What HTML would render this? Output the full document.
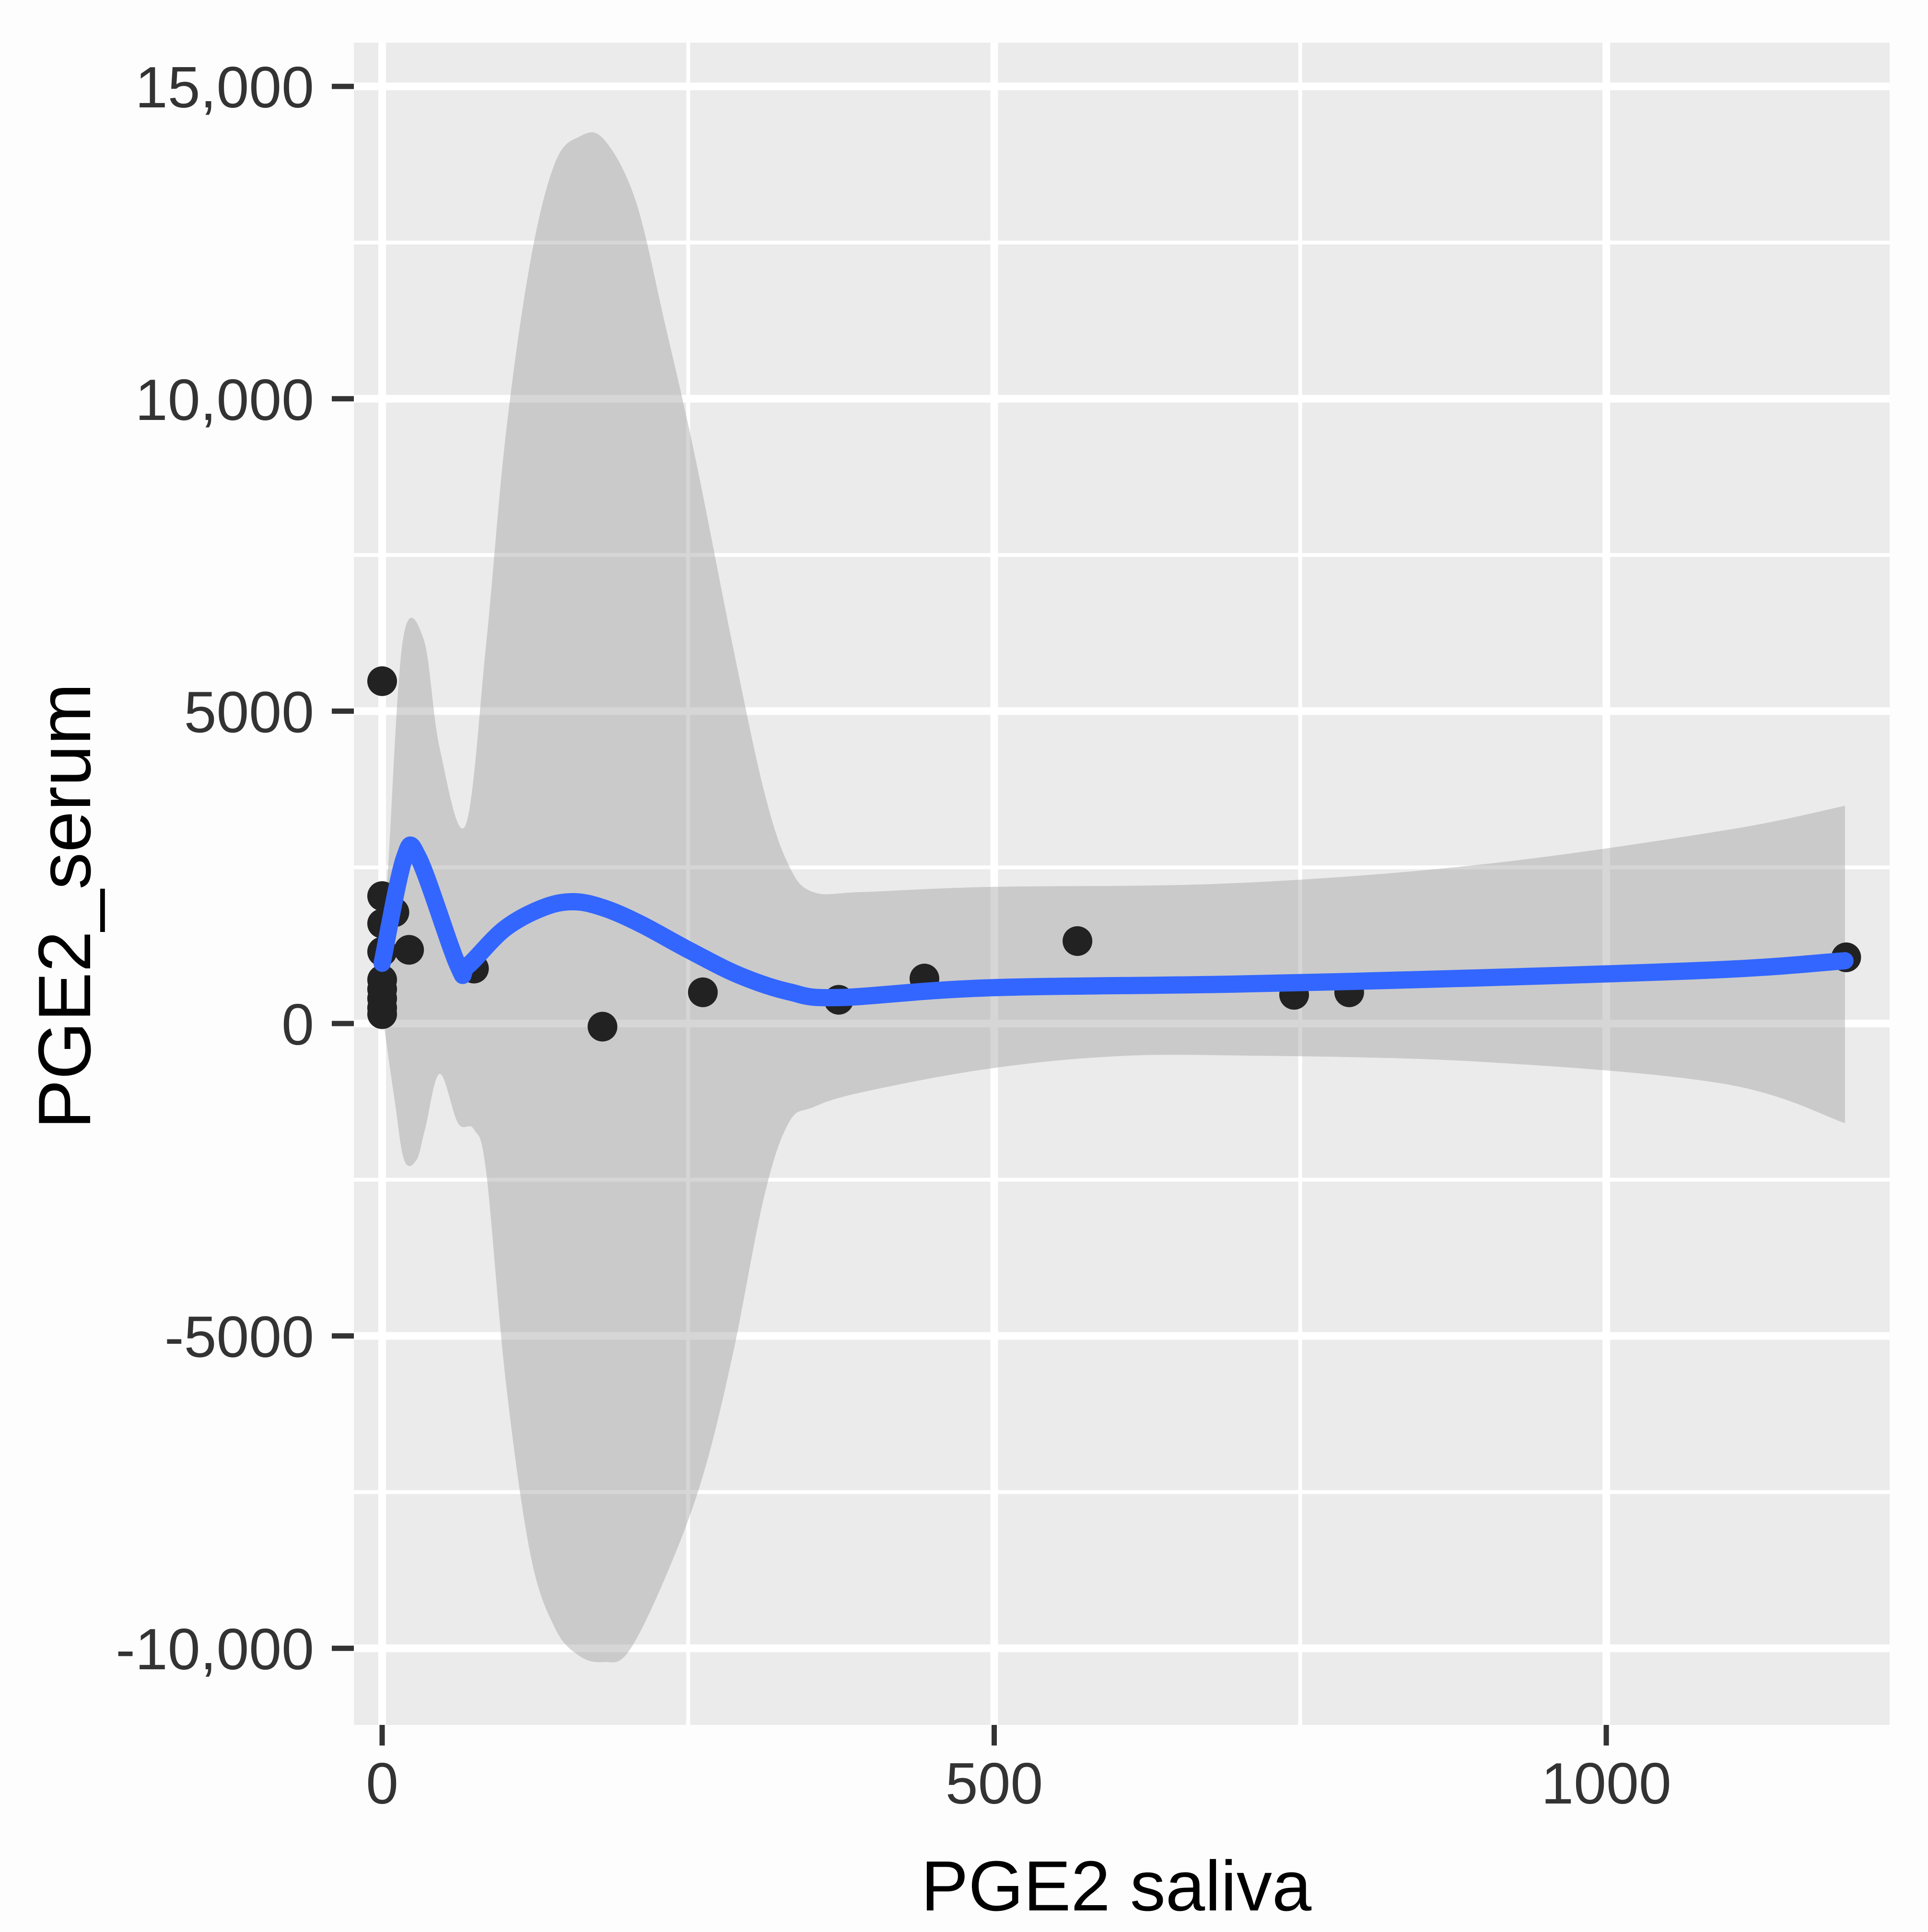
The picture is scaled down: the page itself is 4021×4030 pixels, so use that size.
<!DOCTYPE html>
<html><head><meta charset="utf-8"><style>
html,body{margin:0;padding:0;background:#fdfdfd;}
svg{display:block;font-family:"Liberation Sans",sans-serif;}
</style></head><body>
<svg id="chart" width="4021" height="4030" viewBox="0 0 4021 4030" xmlns="http://www.w3.org/2000/svg">
<rect x="0" y="0" width="4021" height="4030" fill="#fdfdfd"/>
<rect x="738" y="89" width="3203" height="3509" fill="#ebebeb"/>
<g id="grid"></g>
<g id="marks"></g>
<g id="axes"></g>
<text x="2328" y="3985" font-size="148" text-anchor="middle" fill="#000">PGE2 saliva</text>
<text x="0" y="0" transform="translate(188,1890) rotate(-90)" font-size="155" text-anchor="middle" fill="#000">PGE2_serum</text>
</svg>
<script>
const pointX = [0,0,0,10,0,0,0,0,0,0,22,75,180,262,373,443,568,745,790,1196];
const pointY = [5480,2040,1600,1780,1150,700,550,400,250,150,1180,880,-50,500,380,720,1320,460,500,1060];
const fitX = [0,18,30,62,70,100,131,156,181,211,252,292,332,372,493,694,895,1096,1195];
const fitY = [965,2640,2640,925,925,1515,1850,1950,1850,1595,1160,770,510,415,570,630,730,865,1005];
const upperX = [0,5,17,34,47,68,85,101,121,141,161,181,207,231,256,286,312,332,352,392,493,694,895,1096,1195];
const upperY = [965,2540,6145,6145,4410,3170,6085,9430,12190,13765,14195,14155,13175,11205,9040,6085,3720,2540,2105,2105,2185,2245,2540,3090,3485];
const lowerX = [0,10,18,28,35,47,62,75,85,101,121,141,161,181,201,231,261,286,312,332,352,392,493,594,694,895,1096,1195];
const lowerY = [175,-1200,-2185,-2185,-1695,-805,-1595,-1695,-2380,-5730,-8485,-9670,-10120,-10220,-10060,-8880,-7305,-5335,-2775,-1595,-1340,-1100,-730,-530,-510,-610,-965,-1595];
const xTicks = [0,500,1000];
const xTickLabels = ["0","500","1000"];
const xMinor = [250,750];
const yTicks = [-10000,-5000,0,5000,10000,15000];
const yTickLabels = ["-10,000","-5000","0","5000","10,000","15,000"];
const yMinor = [-7500,-2500,2500,7500,12500];

const PL=738, PR=3941, PT=89, PB=3598;
function sx(v){return 797 + v*2.553;}
function sy(v){return 2135 - v*0.13032;}
const NS="http://www.w3.org/2000/svg";
function mk(tag, parent, attrs){const e=document.createElementNS(NS,tag);for(const k in attrs)e.setAttribute(k,attrs[k]);parent.appendChild(e);return e;}
function smooth(pts, start){
  let d=(start?'M':'L')+pts[0][0]+','+pts[0][1];
  for(let i=0;i<pts.length-1;i++){
    const p0=pts[Math.max(0,i-1)],p1=pts[i],p2=pts[i+1],p3=pts[Math.min(pts.length-1,i+2)];
    const t=0.17;
    const c1=[p1[0]+(p2[0]-p0[0])*t,p1[1]+(p2[1]-p0[1])*t];
    const c2=[p2[0]-(p3[0]-p1[0])*t,p2[1]-(p3[1]-p1[1])*t];
    d+='C'+c1[0]+','+c1[1]+' '+c2[0]+','+c2[1]+' '+p2[0]+','+p2[1];
  }
  return d;
}
const grid=document.getElementById('grid'), marks=document.getElementById('marks'), axes=document.getElementById('axes');

yMinor.forEach(v=>{const l=mk('line',grid,{x1:PL,x2:PR,y1:sy(v),y2:sy(v),stroke:'#fff','stroke-width':8});

});
xMinor.forEach(v=>{const l=mk('line',grid,{x1:sx(v),x2:sx(v),y1:PT,y2:PB,stroke:'#fff','stroke-width':8});

});
yTicks.forEach((v,i)=>{const l=mk('line',grid,{x1:PL,x2:PR,y1:sy(v),y2:sy(v),stroke:'#fff','stroke-width':16});


const t=mk('line',axes,{x1:692,x2:738,y1:sy(v),y2:sy(v),stroke:'#333','stroke-width':11});


const tx=mk('text',axes,{x:655,y:sy(v)+44,'font-size':122,'text-anchor':'end',fill:'#333'});
tx.textContent=yTickLabels[i];

});
xTicks.forEach((v,i)=>{const l=mk('line',grid,{x1:sx(v),x2:sx(v),y1:PT,y2:PB,stroke:'#fff','stroke-width':16});


const t=mk('line',axes,{x1:sx(v),x2:sx(v),y1:PB,y2:3641,stroke:'#333','stroke-width':11});


const tx=mk('text',axes,{x:sx(v),y:3762,'font-size':122,'text-anchor':'middle',fill:'#333'});
tx.textContent=xTickLabels[i];

});

const up=upperX.map((v,i)=>[sx(v),sy(upperY[i])]);
const lo=lowerX.map((v,i)=>[sx(v),sy(lowerY[i])]).reverse();
const d=smooth(up,true)+smooth(lo,false)+'Z';
const rib=mk('path',marks,{d:d,fill:'#999',opacity:0.4});



pointX.forEach((v,i)=>{const c=mk('circle',marks,{cx:sx(v),cy:sy(pointY[i]),r:31,fill:'#222'});

});

const fp=fitX.map((v,i)=>[sx(v),sy(fitY[i])]);
const line=mk('path',marks,{d:smooth(fp,true),fill:'none',stroke:'#3366ff','stroke-width':36,'stroke-linejoin':'round','stroke-linecap':'round'});


</script>
</body></html>
